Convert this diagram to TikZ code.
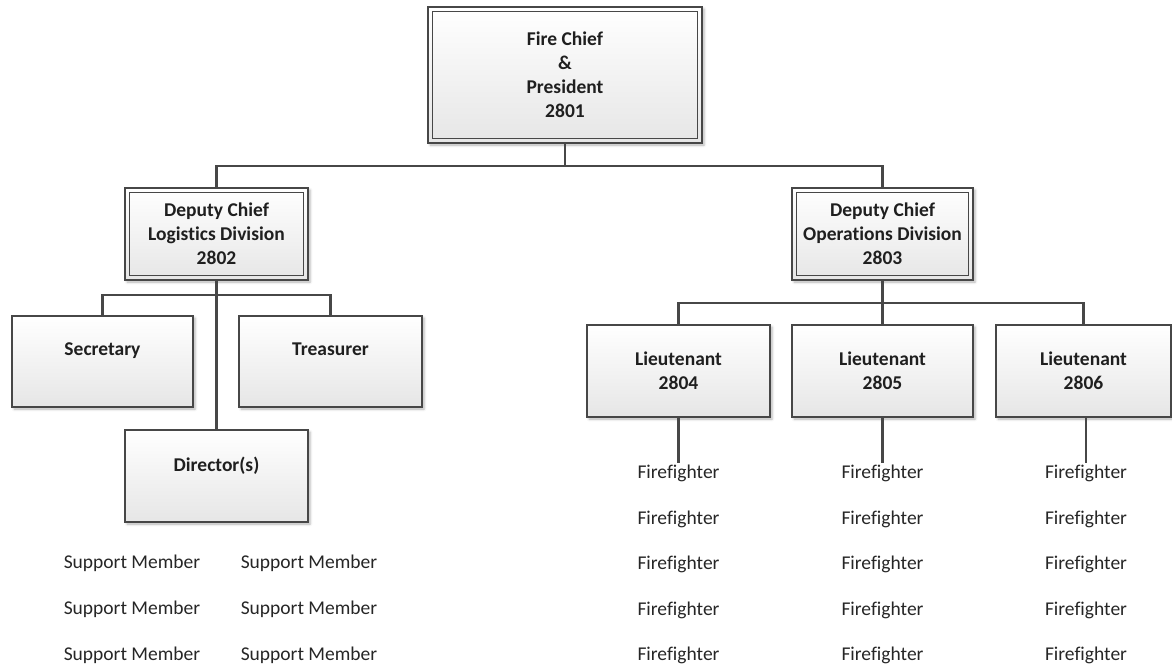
\documentclass[tikz,border=0pt]{standalone}
\usepackage{fontspec}
\setmainfont{Carlito}[Ligatures=NoCommon]
\usetikzlibrary{shadows.blur}
\definecolor{linec}{HTML}{474747}
\definecolor{boxbot}{HTML}{E6E6E6}
\tikzset{
  box/.style={draw=linec, line width=1.4pt, top color=white, bottom color=boxbot,
    blur shadow={shadow xshift=2pt, shadow yshift=-2pt, shadow blur radius=2.5pt, shadow opacity=30},
    align=center, inner sep=0pt, font=\fontsize{19.5}{24}\selectfont\bfseries, text=black!88},
  inner/.style={draw=linec, line width=1.2pt},
  conn/.style={draw=linec, line width=2.2pt},
  plain/.style={inner sep=0pt, font=\fontsize{19.5}{24}\selectfont, text=black!85},
}
\begin{document}
\begin{tikzpicture}[x=1pt, y=-1pt]
\useasboundingbox (0,0) rectangle (1172,669);
% top
\node[box, minimum width=274pt, minimum height=136pt] (chief) at (565,75) {Fire Chief\\\&\\President\\2801};
\draw[inner] ([shift={(5pt,-5pt)}]chief.north west) rectangle ([shift={(-5pt,5pt)}]chief.south east);
% deputies
\node[box, minimum width=183pt, minimum height=92pt] (log) at (216.5,234) {Deputy Chief\\Logistics Division\\2802};
\draw[inner] ([shift={(5pt,-5pt)}]log.north west) rectangle ([shift={(-5pt,5pt)}]log.south east);
\node[box, minimum width=181pt, minimum height=92pt] (ops) at (882.5,234) {Deputy Chief\\Operations Division\\2803};
\draw[inner] ([shift={(5pt,-5pt)}]ops.north west) rectangle ([shift={(-5pt,5pt)}]ops.south east);
% logistics children
\node[box, minimum width=181pt, minimum height=91pt] (sec) at (102.5,361.5) {Secretary\\\mbox{}};
\node[box, minimum width=183pt, minimum height=91pt] (tre) at (330.5,361.5) {Treasurer\\\mbox{}};
\node[box, minimum width=183pt, minimum height=92pt] (dir) at (216.5,476) {Director(s)\\\mbox{}};
% lieutenants
\node[box, minimum width=183pt, minimum height=92pt] (l1) at (678.5,371) {Lieutenant\\2804};
\node[box, minimum width=181pt, minimum height=92pt] (l2) at (882.5,371) {Lieutenant\\2805};
\node[box, minimum width=175pt, minimum height=92pt] (l3) at (1083.5,371) {Lieutenant\\2806};
% connectors
\coordinate (bar1) at (565,166);
\coordinate (bar2) at (216.5,295);
\coordinate (bar3) at (882.5,303);
\draw[conn] (chief.south) -- (bar1);
\draw[conn] (log.north) |- (bar1) -| (ops.north);
\draw[conn] (log.south) -- (dir.north);
\draw[conn] (sec.north) |- (bar2) -| (tre.north);
\draw[conn] (ops.south) -- (l2.north);
\draw[conn] (l1.north) |- (bar3) -| (l3.north);
% firefighters
\foreach \c/\x in {1/678.5, 2/882.5, 3/1086} {
  \foreach \r/\y in {1/473, 2/519, 3/564, 4/610, 5/655} {
    \node[plain] (f\c\r) at (\x,\y) {Firefighter};
  }
}
\draw[conn] (l1.south) -- ([yshift=1pt]f11.north);
\draw[conn] (l2.south) -- ([yshift=1pt]f21.north);
\draw[conn] (l3.south -| f31.north) -- ([yshift=1pt]f31.north);
% support members
\foreach \c/\x in {1/132, 2/309} {
  \foreach \r/\y in {1/563, 2/609, 3/655} {
    \node[plain] (s\c\r) at (\x,\y) {Support Member};
  }
}
\end{tikzpicture}
\end{document}
